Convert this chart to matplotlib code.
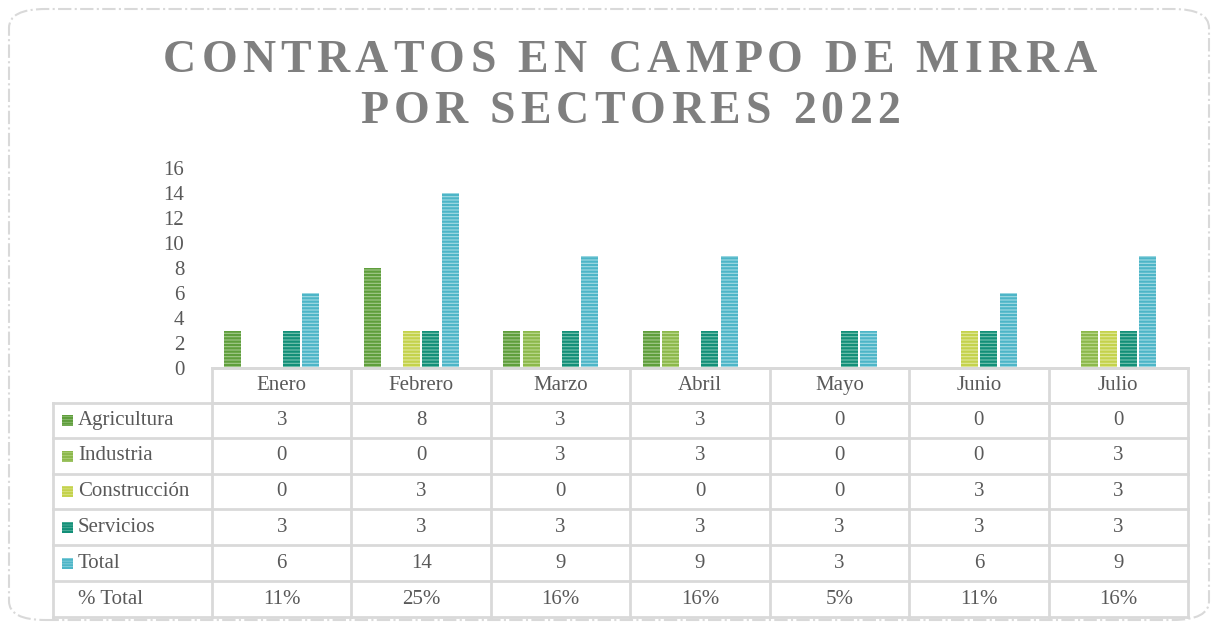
import matplotlib.pyplot as plt
import numpy as np
from matplotlib.patches import FancyBboxPatch, Rectangle
from matplotlib.lines import Line2D
import matplotlib.transforms as mtransforms

months = ['Enero', 'Febrero', 'Marzo', 'Abril', 'Mayo', 'Junio', 'Julio']
series = ['Agricultura', 'Industria', 'Construcción', 'Servicios', 'Total']
agricultura = [3, 8, 3, 3, 0, 0, 0]
industria = [0, 0, 3, 3, 0, 0, 3]
construccion = [0, 3, 0, 0, 0, 3, 3]
servicios = [3, 3, 3, 3, 3, 3, 3]
total = [6, 14, 9, 9, 3, 6, 9]
pct_total = ['11%', '25%', '16%', '16%', '5%', '11%', '16%']
title_lines = ['CONTRATOS EN CAMPO DE MIRRA', 'POR SECTORES 2022']

colors = ['#5f9e3c', '#8cb84b', '#c4d24c', '#138f78', '#4db5c7']
light = ['#a3c98c', '#bcd98f', '#e0e89a', '#76c2b0', '#a3dbe4']

plt.rcParams['font.family'] = ['Liberation Serif', 'DejaVu Serif']
plt.rcParams['hatch.linewidth'] = 1.6

fig = plt.figure(figsize=(12.18, 6.27), dpi=100)
W, H = 1218, 627

def fx(px):
    return px / W

def fy(py):
    return 1 - py / H

# rounded dash-dot border
border = FancyBboxPatch((fx(9), fy(620)), fx(1200), (611) / H,
                        boxstyle='round,pad=0,rounding_size=0.03',
                        transform=fig.transFigure, fill=False,
                        edgecolor='#d9d9d9', linewidth=1.5, linestyle='-.')
fig.add_artist(border)

# title with letter spacing
renderer = fig.canvas.get_renderer()
spacing = 5.2
title_cx = 630
for line, cy in zip(title_lines, [61, 112]):
    widths = []
    for ch in line:
        t = fig.text(0, 0, ch, fontsize=33, fontweight='bold', color='#7f7f7f')
        widths.append(t.get_window_extent(renderer).width)
        t.remove()
    total_w = sum(widths) + spacing * (len(line) - 1)
    px = title_cx - total_w / 2
    for ch, w in zip(line, widths):
        fig.text(fx(px), fy(cy), ch, ha='left', va='center', fontsize=33,
                 fontweight='bold', color='#7f7f7f')
        px += w + spacing

ax = fig.add_axes([fx(212), fy(368), fx(1188) - fx(212), (368 - 168) / H])
x = np.arange(len(months))
data = [agricultura, industria, construccion, servicios, total]
slot = 0.14
bw = 0.122
for i, vals in enumerate(data):
    ax.bar(x + (i - 2.5) * slot, vals, bw, color=light[i], edgecolor=colors[i],
           hatch='-----', linewidth=0)

ax.set_xlim(-0.5, len(months) - 0.5)
ax.set_ylim(0, 16)
ax.set_yticks(range(0, 17, 2))
ax.tick_params(axis='y', length=0, labelsize=15, labelcolor='#595959', pad=20)
ax.set_xticks([])
for s in ['top', 'right', 'left']:
    ax.spines[s].set_visible(False)
ax.spines['bottom'].set_color('#d9d9d9')
ax.spines['bottom'].set_linewidth(2)

# table
tr = mtransforms.blended_transform_factory(ax.transData, fig.transFigure)
lc = '#d9d9d9'
row_edges = [368, 403, 438, 474, 509, 545, 581, 617]
tcolor = '#595959'
fs = 15

for k, ry in enumerate(row_edges):
    if k <= 1:
        fig.add_artist(Line2D([-0.5, 6.5], [fy(ry), fy(ry)], transform=tr, color=lc, lw=2))
    if k >= 1:
        fig.add_artist(Line2D([fx(53), fx(1188)], [fy(ry), fy(ry)],
                              transform=fig.transFigure, color=lc, lw=2))
for c in np.arange(-0.5, 7.0, 1.0):
    fig.add_artist(Line2D([c, c], [fy(368), fy(617)], transform=tr, color=lc, lw=2))
fig.add_artist(Line2D([fx(53), fx(53)], [fy(403), fy(617)], transform=fig.transFigure,
                      color=lc, lw=2))

for j, m in enumerate(months):
    fig.text(x[j], fy((368 + 403) / 2), m, transform=tr, ha='center', va='center',
             fontsize=fs, color=tcolor)

rows = data + [pct_total]
labels = series + ['% Total']
for r in range(6):
    cy = fy((row_edges[r + 1] + row_edges[r + 2]) / 2)
    fig.text(fx(78), cy, labels[r], ha='left', va='center', fontsize=fs, color=tcolor)
    if r < 5:
        key = Rectangle((fx(62), cy - 5.5 / H), fx(11), 11 / H, transform=fig.transFigure,
                        facecolor=light[r], edgecolor=colors[r], hatch='------', linewidth=0)
        fig.add_artist(key)
    for j in range(len(months)):
        fig.text(x[j], cy, str(rows[r][j]), transform=tr, ha='center', va='center',
                 fontsize=fs, color=tcolor)

fig.savefig('out.png', dpi=100)
